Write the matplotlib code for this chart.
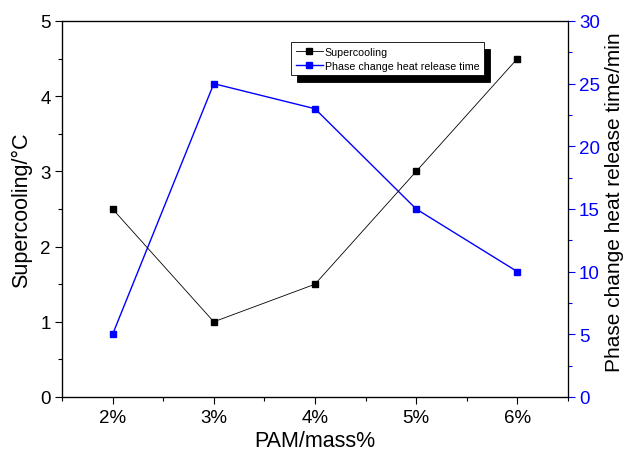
import matplotlib
matplotlib.use("Agg")
import matplotlib.pyplot as plt
from matplotlib.ticker import MultipleLocator

plt.rcParams['font.family'] = ['Liberation Sans', 'DejaVu Sans']

pam = [2, 3, 4, 5, 6]
pam_labels = ['2%', '3%', '4%', '5%', '6%']
supercooling = [2.5, 1.0, 1.5, 3.0, 4.5]
release_time = [5, 25, 23, 15, 10]

W, H = 627, 456
left, right, top, bottom = 62, 568, 22, 398

fig = plt.figure(figsize=(W / 100, H / 100), dpi=100)
ax = fig.add_axes([left / W, 1 - bottom / H, (right - left) / W, (bottom - top) / H])
ax2 = ax.twinx()

l1, = ax.plot(pam, supercooling, color='black', lw=0.6, marker='s', ms=5,
              label='Supercooling')
l2, = ax2.plot(pam, release_time, color='blue', lw=1.0, marker='s', ms=5,
               label='Phase change heat release time')

ax.set_xlim(1.5, 6.5)
ax.set_ylim(0, 5)
ax2.set_ylim(0, 30)
ax.set_xticks(pam)
ax.set_xticklabels(pam_labels)
ax.xaxis.set_minor_locator(MultipleLocator(0.5))
ax.yaxis.set_major_locator(MultipleLocator(1))
ax.yaxis.set_minor_locator(MultipleLocator(0.5))
ax2.yaxis.set_major_locator(MultipleLocator(5))
ax2.yaxis.set_minor_locator(MultipleLocator(2.5))

# bottom/left ticks point outward; top spine carries inward ticks
ax.tick_params(axis='x', which='major', direction='out', length=5, width=0.8,
               labelsize=13.5, top=False)
ax.tick_params(axis='x', which='minor', direction='out', length=3, width=0.8,
               top=False)
ax.tick_params(axis='y', which='major', direction='out', length=5, width=0.8,
               labelsize=13.5, pad=3)
ax.tick_params(axis='y', which='minor', direction='out', length=3, width=0.8)
ax2.set_xlim(1.5, 6.5)
ax2.xaxis.set_major_locator(MultipleLocator(1))
ax2.xaxis.set_minor_locator(MultipleLocator(0.5))
ax2.tick_params(axis='x', which='major', direction='in', length=6, width=0.8,
                top=True, bottom=False, labeltop=False, labelbottom=False)
ax2.tick_params(axis='x', which='minor', direction='in', length=3, width=0.8,
                top=True, bottom=False)
ax2.tick_params(axis='y', which='major', direction='out', length=5, width=0.8,
                colors='blue', labelsize=13.5, pad=3)
ax2.tick_params(axis='y', which='minor', direction='out', length=3, width=0.8,
                colors='blue')

for sp in ['left', 'bottom', 'top']:
    ax.spines[sp].set_linewidth(0.9)
ax2.spines['right'].set_color('blue')
ax2.spines['right'].set_linewidth(0.9)

ax.set_xlabel('PAM/mass%', fontsize=15.5, labelpad=3)
ax.set_ylabel('Supercooling/°C', fontsize=15.5, labelpad=6)
ax2.set_ylabel('Phase change heat release time/min', fontsize=15, labelpad=3)
ax2.yaxis.set_label_coords((605 - left) / (right - left), 0.52)

leg = ax.legend(handles=[l1, l2], loc='upper left',
                bbox_to_anchor=((291 - left) / (right - left),
                                (bottom - 43) / (bottom - top)),
                fontsize=7.7, frameon=True, fancybox=False, framealpha=1,
                edgecolor='black', handlelength=2.5, handletextpad=0.2,
                borderpad=0.45, labelspacing=0.35, borderaxespad=0,
                markerscale=0.9,
                shadow={'color': 'black', 'alpha': 1, 'ox': 4.5, 'oy': -5})
leg.get_frame().set_linewidth(0.6)
leg.set_zorder(10)
ax.set_zorder(ax2.get_zorder() + 1)
ax.patch.set_visible(False)

fig.savefig('out.png', dpi=100)
